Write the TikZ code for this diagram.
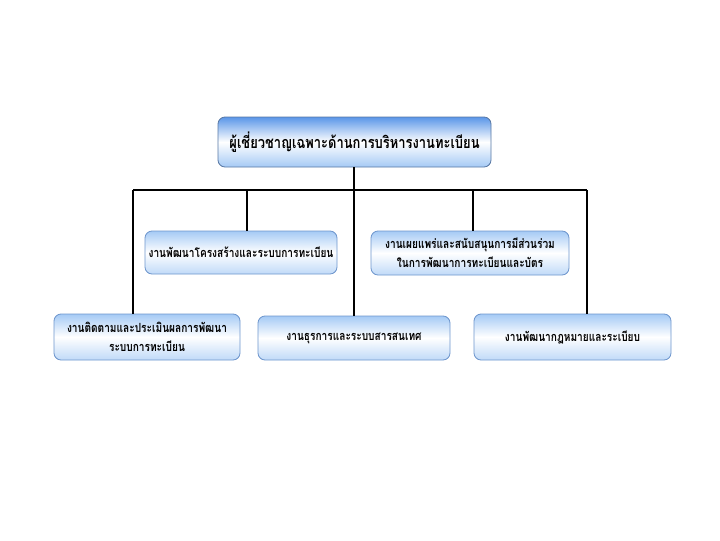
\documentclass[tikz,border=0pt]{standalone}
\usepackage{fontspec}
\newfontfamily\thaifont[Script=Thai, FakeStretch=0.8]{Loma}
\definecolor{boxblue}{RGB}{90,150,232}
\definecolor{boxpale}{RGB}{165,202,245}
\definecolor{boxedge}{RGB}{110,150,205}
\tikzset{
  unitbox/.style={draw=boxedge, line width=0.6pt, rounded corners=5pt,
    top color=boxpale, bottom color=boxpale!70, middle color=white,
    align=center, font=\thaifont\bfseries\fontsize{9}{13.5}\selectfont, inner sep=0pt},
  headbox/.style={unitbox, draw=boxedge!80!black, top color=boxblue, bottom color=boxpale,
    middle color=white, font=\thaifont\bfseries\fontsize{11.5}{15}\selectfont},
  link/.style={line width=1.4pt, black}
}
\begin{document}
\begin{tikzpicture}[x=0.025cm, y=-0.025cm]
  \useasboundingbox (0,0) rectangle (720,540);

  % Head
  \node[headbox, minimum width=273*0.025cm, minimum height=50*0.025cm] (head) at (354.5,142)
    {ผู้เชี่ยวชาญเฉพาะด้านการบริหารงานทะเบียน};

  % Second row
  \node[unitbox, minimum width=192*0.025cm, minimum height=43*0.025cm] (struct) at (241,252.5)
    {งานพัฒนาโครงสร้างและระบบการทะเบียน};
  \node[unitbox, minimum width=198*0.025cm, minimum height=44*0.025cm] (publish) at (470,253)
    {งานเผยแพร่และสนับสนุนการมีส่วนร่วม\\ในการพัฒนาการทะเบียนและบัตร};

  % Third row
  \node[unitbox, minimum width=186*0.025cm, minimum height=46*0.025cm] (monitor) at (147,337)
    {งานติดตามและประเมินผลการพัฒนา\\ระบบการทะเบียน};
  \node[unitbox, minimum width=192*0.025cm, minimum height=44*0.025cm] (admin) at (354,338)
    {งานธุรการและระบบสารสนเทศ};
  \node[unitbox, minimum width=197*0.025cm, minimum height=46*0.025cm] (law) at (572.5,337)
    {งานพัฒนากฎหมายและระเบียบ};

  % Bus taps
  \coordinate (tmonitor) at (133,190);
  \coordinate (tstruct) at (247,190);
  \coordinate (tadmin) at (354,190);
  \coordinate (tpublish) at (473,190);
  \coordinate (tlaw) at (587,190);

  % Connectors
  \draw[link] (head.south -| tadmin) -- (tadmin);
  \draw[link] (tmonitor) -- (tlaw);
  \foreach \t/\b in {tmonitor/monitor, tstruct/struct, tadmin/admin, tpublish/publish, tlaw/law}
    \draw[link] (\t) -- (\t |- \b.north);
\end{tikzpicture}
\end{document}
